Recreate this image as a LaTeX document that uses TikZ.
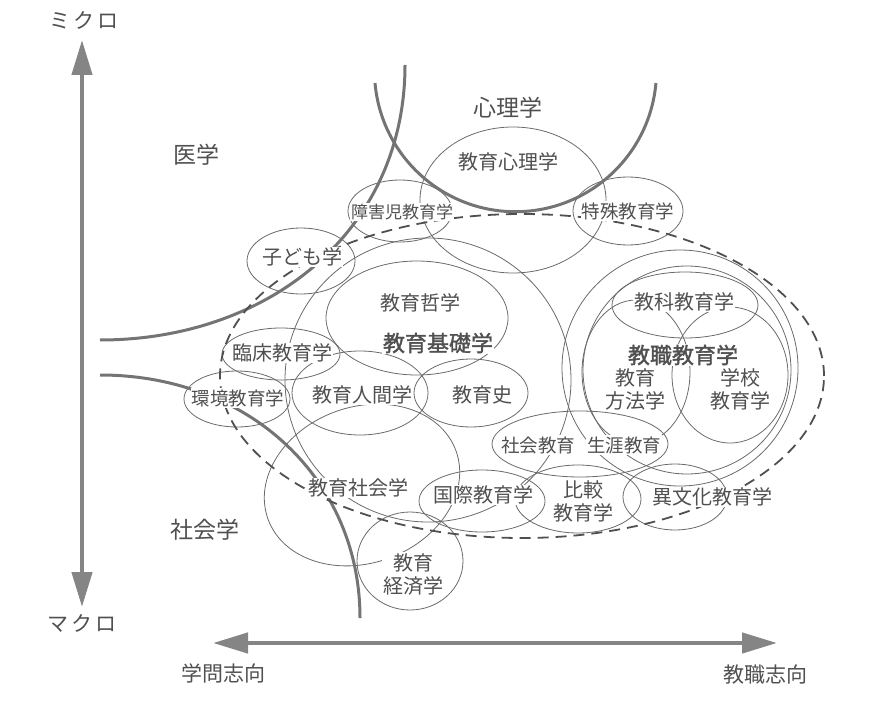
\documentclass[tikz,border=0pt]{standalone}
\usepackage{fontspec}
\newfontfamily\jp{Noto Sans CJK JP}
\newfontfamily\jpbold[FakeBold=1.6]{Noto Sans CJK JP}
\usetikzlibrary{arrows.meta}
\definecolor{inkgray}{HTML}{505050}
\definecolor{linegray}{HTML}{6A6A6A}
\definecolor{thickgray}{HTML}{747474}
\definecolor{axisgray}{HTML}{858585}

\begin{document}
\begin{tikzpicture}[x=1pt,y=-1pt,
    thinline/.style={draw=linegray,line width=0.8pt},
    thickline/.style={draw=thickgray,line width=3pt},
    dashline/.style={draw=inkgray,line width=1.8pt,dash pattern=on 11pt off 7pt},
    axisarrow/.style={draw=axisgray,line width=4.5pt,
      {Triangle[length=35pt,width=20pt]}-{Triangle[length=35pt,width=20pt]}},
    lbl/.style={text=inkgray,fill=white,inner sep=1pt,align=center,
      font=\jp\fontsize{20}{23}\selectfont},
    smalllbl/.style={lbl,font=\jp\fontsize{17}{20}\selectfont},
    midlbl/.style={lbl,font=\jp\fontsize{18.5}{22}\selectfont},
    biglbl/.style={lbl,font=\jp\fontsize{23}{26}\selectfont},
    axislbl/.style={lbl,font=\jp\fontsize{21}{24}\selectfont},
    boldlbl/.style={lbl,font=\jpbold\fontsize{22}{25}\selectfont}]
  \useasboundingbox (0,0) rectangle (877,703);

  % axes
  \coordinate (axtop) at (82,40);
  \coordinate (axbot) at (82,607);
  \coordinate (axleft) at (213,643);
  \coordinate (axright) at (777,643);
  \draw[axisarrow] (axtop) -- (axbot);
  \draw[axisarrow] (axleft) -- (axright);

  % education sciences
  \draw[thinline] (513,200) ellipse[x radius=93pt,y radius=73pt];
  \draw[thinline] (400,211) ellipse[x radius=52pt,y radius=31pt];
  \draw[thinline] (628,211) ellipse[x radius=55pt,y radius=34pt];
  \draw[thinline] (301,261) ellipse[x radius=54pt,y radius=33pt];
  \draw[thinline] (428,380) ellipse[x radius=143pt,y radius=142pt];
  \draw[thinline] (417,318) ellipse[x radius=91pt,y radius=57pt];
  \draw[thinline] (281,354) ellipse[x radius=59pt,y radius=26pt];
  \draw[thinline] (237,399) ellipse[x radius=53pt,y radius=28pt];
  \draw[thinline] (360,393) ellipse[x radius=68pt,y radius=42pt];
  \draw[thinline] (471,393) ellipse[x radius=57pt,y radius=34pt];
  \draw[thinline] (580,444) ellipse[x radius=88pt,y radius=33pt];
  \draw[thinline] (482,501) ellipse[x radius=63pt,y radius=31pt];
  \draw[thinline] (578,499) ellipse[x radius=63pt,y radius=34pt];
  \draw[thinline] (675,497) ellipse[x radius=52pt,y radius=33pt];
  \draw[thinline,rotate around={20:(362,485)}] (362,485) ellipse[x radius=100pt,y radius=78pt];
  \draw[thinline] (410,561) ellipse[x radius=53pt,y radius=49pt];

  \draw[thinline] (680,368) circle[radius=118pt];
  \draw[thinline] (687,370) circle[radius=104pt];
  \draw[thinline] (685,305) ellipse[x radius=73pt,y radius=33pt];
  \draw[thinline] (636,372) ellipse[x radius=54pt,y radius=72pt];
  \draw[thinline] (730,375) ellipse[x radius=58pt,y radius=68pt];

  % neighbouring disciplines
  \draw[thickline] (100,340) .. controls (270,340) and (405,230) .. (405,65);
  \draw[thickline] (100,375) .. controls (250,375) and (360,480) .. (360,618);
  \draw[thickline] (375,83) arc[start angle=185,end angle=355,radius=141pt];

  \draw[dashline] (522,376) ellipse[x radius=302pt,y radius=162pt];

  \node[biglbl] (psy) at (508,108) {心理学};
  \node[biglbl] (med) at (196,155) {医学};
  \node[biglbl] (soc) at (205,530) {社会学};

  \node[lbl] (edpsy) at (508,162) {教育心理学};
  \node[smalllbl] (disab) at (402,212) {障害児教育学};
  \node[midlbl] (special) at (628,211) {特殊教育学};
  \node[lbl] (child) at (302,257) {子ども学};
  \node[lbl] (philo) at (420,303) {教育哲学};
  \node[boldlbl] (found) at (438,343) {教育基礎学};
  \node[lbl] (clinic) at (282,353) {臨床教育学};
  \node[midlbl] (envir) at (238,398) {環境教育学};
  \node[lbl] (anthro) at (362,395) {教育人間学};
  \node[lbl] (hist) at (482,395) {教育史};
  \node[midlbl] (social) at (538,445) {社会教育};
  \node[midlbl] (lifelong) at (624,445) {生涯教育};
  \node[lbl] (sociol) at (358,488) {教育社会学};
  \node[lbl] (intl) at (483,495) {国際教育学};
  \node[lbl] (comp) at (583,501) {比較\\教育学};
  \node[lbl] (intercult) at (712,497) {異文化教育学};
  \node[lbl] (econ) at (413,574) {教育\\経済学};

  \node[lbl] (subject) at (684,302) {教科教育学};
  \node[boldlbl] (teach) at (683,355) {教職教育学};
  \node[lbl] (method) at (635,389) {教育\\方法学};
  \node[lbl] (school) at (740,389) {学校\\教育学};

  \node[axislbl] (micro) at (84,20) {ミ\hspace{3pt}ク\hspace{3pt}ロ};
  \node[axislbl] (macro) at (82,623) {マ\hspace{3pt}ク\hspace{3pt}ロ};
  \node[axislbl] (acad) at (223,673) {学問志向};
  \node[axislbl] (prof) at (765,675) {教職志向};
\end{tikzpicture}
\end{document}
